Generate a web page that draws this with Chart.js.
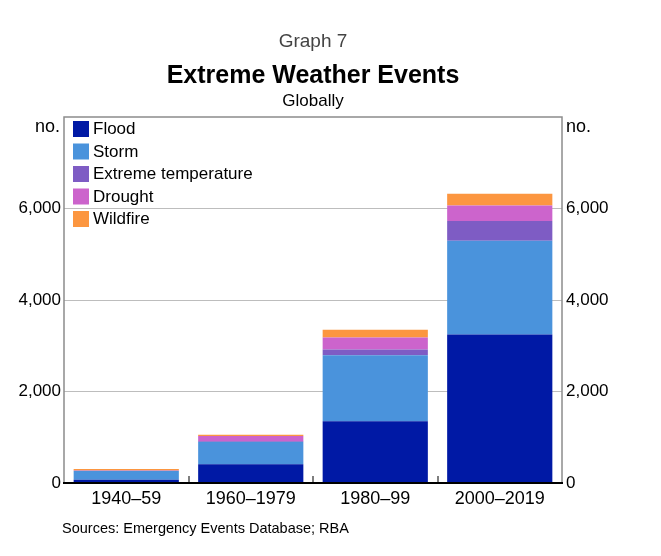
<!DOCTYPE html>
<html>
<head>
<meta charset="utf-8">
<script src="https://cdn.jsdelivr.net/npm/chart.js@4"></script>
<style>
  body { margin: 0; background: #fff; font-family: "Liberation Sans", Arial, sans-serif; }
  #wrap { position: relative; width: 661px; height: 556px; }
  .txt { position: absolute; white-space: nowrap; }
  #graphNo { left: 0; width: 626px; text-align: center; top: 30px; font-size: 19px; color: #444; }
  #title { left: 0; width: 626px; text-align: center; top: 60px; font-size: 25px; font-weight: bold; color: #000; }
  #subtitle { left: 0; width: 626px; text-align: center; top: 91px; font-size: 17px; color: #000; }
  #unitL { left: 35px; top: 116px; font-size: 18px; }
  #unitR { left: 566px; top: 116px; font-size: 18px; }
  #source { left: 62px; top: 520px; font-size: 14.5px; }
</style>
</head>
<body>
<div id="wrap">
  <canvas id="chart" width="661" height="556"></canvas>
  <div class="txt" id="graphNo">Graph 7</div>
  <div class="txt" id="title">Extreme Weather Events</div>
  <div class="txt" id="subtitle">Globally</div>
  <div class="txt" id="unitL">no.</div>
  <div class="txt" id="unitR">no.</div>
  <div class="txt" id="source">Sources: Emergency Events Database; RBA</div>
</div>
<script>
// waarden
var categories = ["1940–59", "1960–1979", "1980–99", "2000–2019"];
var flood = [70, 410, 1350, 3245];
var storm = [195, 485, 1440, 2050];
var extremeTemp = [5, 15, 130, 430];
var drought = [5, 115, 260, 340];
var wildfire = [30, 30, 170, 255];
var yTicks = [0, 2000, 4000, 6000];

var fontName = "'Liberation Sans', Arial, sans-serif";

// kader, streepjes en legenda
var framePlugin = {
    id: "frame",
    beforeDatasetsDraw: function (chart) {
        var a = chart.chartArea;
        var ctx = chart.ctx;
        ctx.save();
        ctx.strokeStyle = "#8c8c8c";
        ctx.lineWidth = 1.5;
        ctx.strokeRect(a.left, a.top, a.right - a.left, a.bottom - a.top);
        ctx.restore();
    },
    afterDatasetsDraw: function (chart) {
        var a = chart.chartArea;
        var ctx = chart.ctx;
        var x = chart.scales.x;
        ctx.save();
        ctx.strokeStyle = "#555";
        ctx.lineWidth = 1.5;
        for (var i = 1; i < categories.length; i++) {
            var px = Math.round((x.getPixelForValue(i - 1) + x.getPixelForValue(i)) / 2);
            ctx.beginPath();
            ctx.moveTo(px, a.bottom);
            ctx.lineTo(px, a.bottom - 7);
            ctx.stroke();
        }
        ctx.strokeStyle = "#000";
        ctx.lineWidth = 2;
        ctx.beginPath();
        ctx.moveTo(a.left - 1, a.bottom);
        ctx.lineTo(a.right + 1, a.bottom);
        ctx.stroke();

        // legenda linksboven in het plotvlak
        ctx.font = "17px " + fontName;
        ctx.textBaseline = "middle";
        chart.data.datasets.forEach(function (d, j) {
            var y = a.top + 4 + j * 22.5;
            ctx.fillStyle = d.backgroundColor;
            ctx.fillRect(a.left + 9, y, 16, 16);
            ctx.fillStyle = "#000";
            ctx.fillText(d.label, a.left + 29, y + 8.5);
        });
        ctx.restore();
    }
};

function tickSet(scale) {
    scale.ticks = yTicks.map(function (v) { return { value: v }; });
}

function ds(label, data, color) {
    return {
        label: label,
        data: data,
        backgroundColor: color,
        borderWidth: 0,
        barPercentage: 0.845,
        categoryPercentage: 1
    };
}

var ctx = document.getElementById("chart").getContext("2d");
var chart = new Chart(ctx, {
    type: "bar",
    data: {
        labels: categories,
        datasets: [
            ds("Flood", flood, "#0019a5"),
            ds("Storm", storm, "#4a93dc"),
            ds("Extreme temperature", extremeTemp, "#7e5cc4"),
            ds("Drought", drought, "#cc64cc"),
            ds("Wildfire", wildfire, "#fc9640")
        ]
    },
    plugins: [framePlugin],
    options: {
        responsive: false,
        animation: false,
        layout: { padding: { top: 117, left: 0, right: 0, bottom: 0 } },
        plugins: {
            tooltip: { enabled: false },
            legend: { display: false }
        },
        scales: {
            x: {
                stacked: true,
                grid: { display: false, drawTicks: false },
                border: { display: false },
                ticks: { color: "#000", padding: 5, font: { family: fontName, size: 18 } },
                afterFit: function (s) { s.height = 73; }
            },
            y: {
                stacked: true,
                position: "left",
                min: 0,
                max: 8000,
                afterBuildTicks: tickSet,
                grid: { color: "#bdbdbd", lineWidth: 1, drawTicks: false },
                border: { display: false },
                ticks: {
                    color: "#000",
                    padding: 3,
                    font: { family: fontName, size: 17 },
                    callback: function (v) { return v.toLocaleString("en-US"); }
                },
                afterFit: function (s) { s.width = 64; }
            },
            y2: {
                position: "right",
                min: 0,
                max: 8000,
                afterBuildTicks: tickSet,
                grid: { display: false, drawTicks: false },
                border: { display: false },
                ticks: {
                    color: "#000",
                    padding: 4,
                    font: { family: fontName, size: 17 },
                    callback: function (v) { return v.toLocaleString("en-US"); }
                },
                afterFit: function (s) { s.width = 99; }
            }
        }
    }
});
</script>
</body>
</html>
